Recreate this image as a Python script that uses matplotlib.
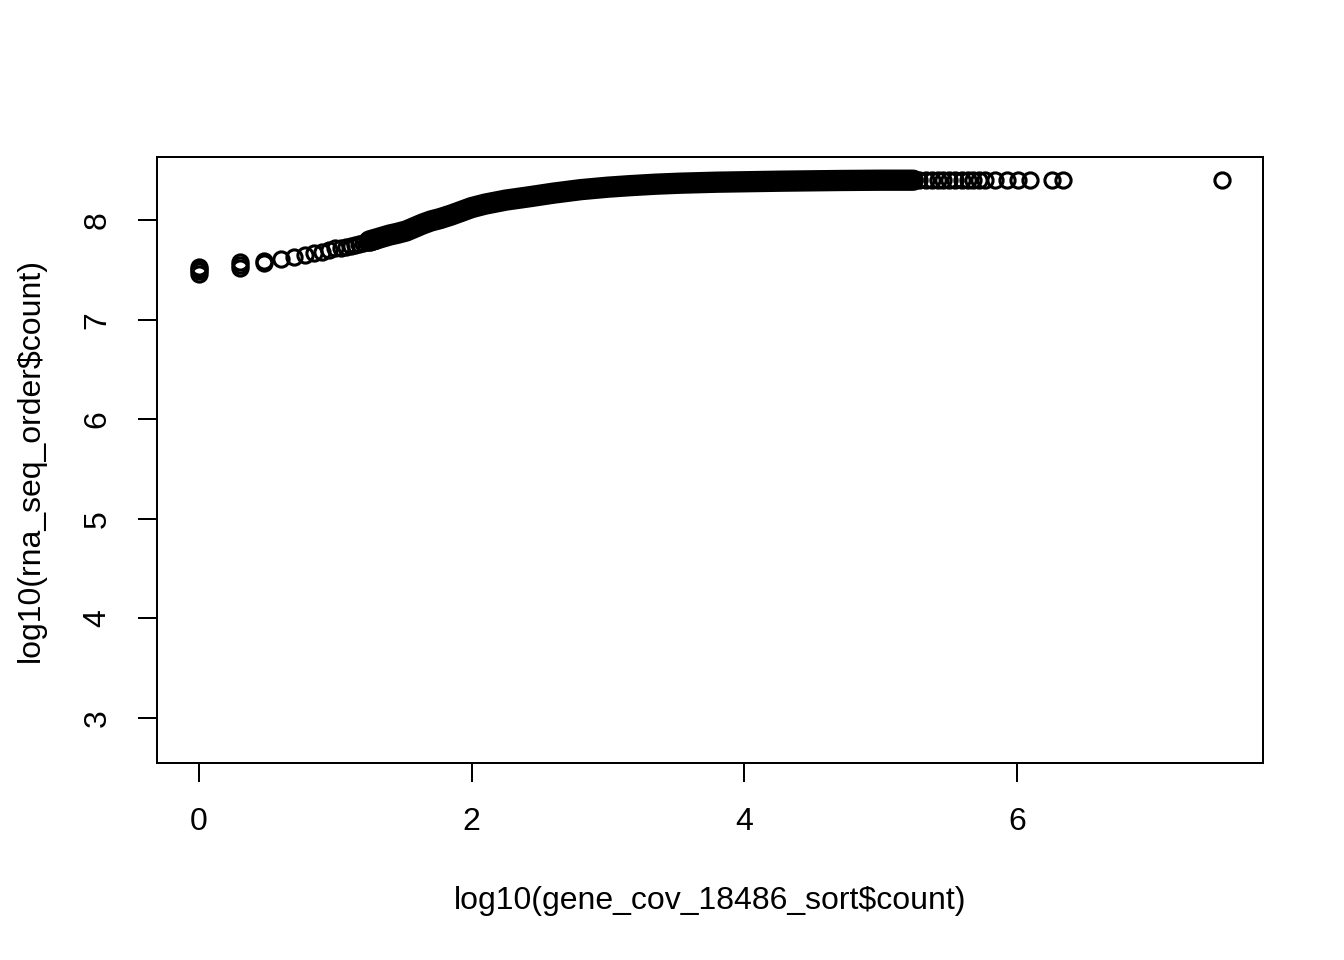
import numpy as np
import matplotlib
matplotlib.use("Agg")
import matplotlib.pyplot as plt

plt.rcParams['font.family'] = ['Liberation Sans', 'DejaVu Sans']

# Discrete low-count points (x = raw count, plotted as log10)
low_counts = [1, 1, 1, 1, 2, 2, 2, 3, 3, 4, 5, 6, 7, 8, 9, 10,
              11, 12, 13, 14, 15, 16, 17, 18, 19, 20]
low_y = [7.46, 7.49, 7.51, 7.53, 7.52, 7.55, 7.58, 7.57, 7.59, 7.61,
         7.63, 7.65, 7.67, 7.68, 7.70, 7.72, 7.72, 7.73, 7.74, 7.75,
         7.76, 7.77, 7.775, 7.78, 7.79, 7.795]

# Dense region (overlapping circles form a solid band), read in log10 units
band_x = [1.25, 1.30, 1.40, 1.45, 1.52, 1.58, 1.64, 1.70, 1.77, 1.85,
          1.92, 2.00, 2.10, 2.25, 2.43, 2.60, 2.80, 3.00, 3.16, 3.35,
          3.53, 3.80, 4.26, 4.70, 5.00, 5.24]
band_y = [7.79, 7.81, 7.85, 7.865, 7.89, 7.925, 7.96, 7.99, 8.015, 8.05,
          8.085, 8.125, 8.16, 8.20, 8.235, 8.27, 8.305, 8.33, 8.345, 8.36,
          8.37, 8.38, 8.39, 8.397, 8.40, 8.40]

# Sparse high-count points (log10 units)
high_x = [5.28, 5.33, 5.38, 5.42, 5.46, 5.50, 5.55, 5.60, 5.64, 5.68,
          5.72, 5.77, 5.84, 5.93, 6.01, 6.10, 6.26, 6.34, 7.505]
high_y = [8.40] * len(high_x)

x_ticks = [0, 2, 4, 6]
y_ticks = [3, 4, 5, 6, 7, 8]
x_label = "log10(gene_cov_18486_sort\\$count)"
y_label = "log10(rna_seq_order\\$count)"

W, H, DPI = 1344, 960, 192
fig = plt.figure(figsize=(W / DPI, H / DPI), dpi=DPI)
L, R, T, B = 157, 1263, 157, 763
ax = fig.add_axes([L / W, 1 - B / H, (R - L) / W, (B - T) / H])

ms = 5.7
mew = 1.15
# band
ax.plot(band_x, band_y, color='black', lw=8.0, solid_capstyle='round',
        solid_joinstyle='round', zorder=2)
ax.plot(band_x, band_y, linestyle='none', marker='o', ms=ms, mew=mew,
        mfc='none', mec='black', zorder=3)
ax.plot(np.log10(low_counts), low_y, linestyle='none', marker='o', ms=ms,
        mew=mew, mfc='none', mec='black', zorder=3)
ax.plot(high_x, high_y, linestyle='none', marker='o', ms=ms, mew=mew,
        mfc='none', mec='black', zorder=3)

ax.set_xlim(-0.308, 7.806)
ax.set_ylim(2.548, 8.633)
ax.set_xticks(x_ticks)
ax.set_yticks(y_ticks)
ax.set_xticklabels([str(v) for v in x_ticks], fontsize=12)
ax.set_yticklabels([str(v) for v in y_ticks], fontsize=12, rotation=90,
                   va='center')
for s in ax.spines.values():
    s.set_linewidth(0.75)
ax.tick_params(axis='both', length=7.1, width=0.75, direction='out')
ax.tick_params(axis='x', pad=9.5)
ax.tick_params(axis='y', pad=9.5)

fig.text((L + R) / 2 / W, 1 - 901 / H, x_label, ha='center', va='center',
         fontsize=12)
fig.text(31 / W, 1 - (T + B) / 2 / H, y_label, ha='center', va='center',
         rotation=90, fontsize=12)

fig.savefig("out.png", dpi=DPI, facecolor='white')
